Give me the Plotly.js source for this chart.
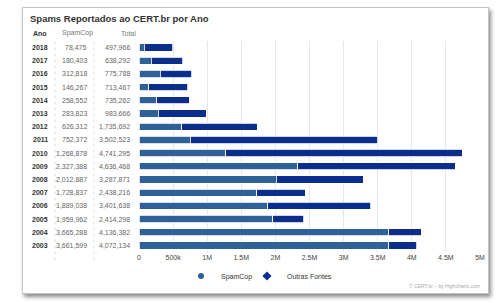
<!DOCTYPE html>
<html>
<head>
<meta charset="utf-8">
<script src="https://cdn.plot.ly/plotly-3.0.1.min.js"></script>
<style>
  html, body { margin: 0; padding: 0; background: #ffffff; width: 501px; height: 303px; overflow: hidden; }
  #card { position: absolute; left: 22px; top: 7px; width: 465px; height: 285px;
          border: 1px solid #c4c4c4; background: #fff; box-shadow: 2px 3px 4px rgba(0,0,0,0.45); }
  #chart { width: 465px; height: 285px; }
</style>
</head>
<body>
<div id="card"><div id="chart"></div></div>
<script>
// ---- data ----
const years   = ['2018','2017','2016','2015','2014','2013','2012','2011','2010','2009','2008','2007','2006','2005','2004','2003'];
const spamcop = [78475, 180403, 312818, 146267, 258552, 283823, 626312, 752372, 1268878, 2327388, 2012887, 1728837, 1889038, 1959962, 3665288, 3661599];
const totals  = [497966, 638292, 775788, 713467, 735262, 983666, 1735692, 3502523, 4741295, 4636468, 3287871, 2438216, 3401638, 2414298, 4136382, 4072134];
const tickVals = [0, 500000, 1000000, 1500000, 2000000, 2500000, 3000000, 3500000, 4000000, 4500000, 5000000];
const tickText = ['0','500k','1M','1.5M','2M','2.5M','3M','3.5M','4M','4.5M','5M'];
const seriesNames = ['SpamCop', 'Outras Fontes'];
const headers = ['Ano', 'SpamCop', 'Total'];

const outras = totals.map((t, i) => t - spamcop[i]);
const fmt = v => v.toLocaleString('en-US');

const C_LIGHT = '#2f6199';
const C_DARK = '#0b2d8c';
const FONT = 'Liberation Sans, Arial, sans-serif';

const traces = [
  { type: 'bar', orientation: 'h', y: years, x: spamcop, name: seriesNames[0],
    marker: { color: C_LIGHT, line: { color: '#ffffff', width: 0.8 } }, showlegend: false, hoverinfo: 'skip' },
  { type: 'bar', orientation: 'h', y: years, x: outras, name: seriesNames[1],
    marker: { color: C_DARK, line: { color: '#ffffff', width: 0.8 } }, showlegend: false, hoverinfo: 'skip' },
  // legend-only entries (Highcharts-style circle / diamond symbols), on hidden axes
  { type: 'scatter', mode: 'markers', x: [null], y: [null], name: seriesNames[0], xaxis: 'x2', yaxis: 'y2',
    legend: 'legend', marker: { symbol: 'circle', size: 6, color: C_LIGHT }, hoverinfo: 'skip' },
  { type: 'scatter', mode: 'markers', x: [null], y: [null], name: seriesNames[1], xaxis: 'x2', yaxis: 'y2',
    legend: 'legend2', marker: { symbol: 'diamond', size: 7, color: C_DARK }, hoverinfo: 'skip' }
];

// table geometry in paper units (plot area: 116..457 px, 33..244 px)
const W = 341, H = 211;
const px = cx => (cx - 116) / W;
const X_YEAR = px(17.5), X_SPAM = px(66), X_TOTAL = px(109);
const Y_HEAD = 1 + (33 - 25) / H;

const annotations = [];
annotations.push({ xref: 'paper', yref: 'paper', x: X_YEAR, y: Y_HEAD, text: '<b>' + headers[0] + '</b>',
  showarrow: false, xanchor: 'center', yanchor: 'middle', font: { family: FONT, size: 7, color: '#333' } });
annotations.push({ xref: 'paper', yref: 'paper', x: px(54), y: Y_HEAD, text: headers[1],
  showarrow: false, xanchor: 'center', yanchor: 'middle', font: { family: FONT, size: 7, color: '#777' } });
annotations.push({ xref: 'paper', yref: 'paper', x: px(105), y: Y_HEAD, text: headers[2],
  showarrow: false, xanchor: 'center', yanchor: 'middle', font: { family: FONT, size: 7, color: '#777' } });
years.forEach((yr, i) => {
  annotations.push({ xref: 'paper', yref: 'y', x: X_YEAR, y: i, text: '<b>' + yr + '</b>',
    showarrow: false, xanchor: 'center', yanchor: 'middle', font: { family: FONT, size: 7, color: '#333' } });
  annotations.push({ xref: 'paper', yref: 'y', x: X_SPAM, y: i, text: fmt(spamcop[i]),
    showarrow: false, xanchor: 'right', yanchor: 'middle', font: { family: FONT, size: 7, color: '#666' } });
  annotations.push({ xref: 'paper', yref: 'y', x: X_TOTAL, y: i, text: fmt(totals[i]),
    showarrow: false, xanchor: 'right', yanchor: 'middle', font: { family: FONT, size: 7, color: '#666' } });
});
annotations.push({ xref: 'paper', yref: 'paper', x: px(459), y: -(278 - 244) / H, text: '© CERT.br – by Highcharts.com',
  showarrow: false, xanchor: 'right', yanchor: 'middle', font: { family: FONT, size: 5, color: '#aaa' } });

const shapes = [px(32), px(71)].map(x => ({
  type: 'line', xref: 'paper', yref: 'paper', x0: x, x1: x, y0: -0.04, y1: 1.0,
  line: { color: '#d6deea', width: 1, dash: 'dot' }
}));

const legendBase = { orientation: 'h', xref: 'container', yref: 'container', xanchor: 'left',
  y: 1 - 268 / 285, yanchor: 'middle', font: { family: FONT, size: 7, color: '#333' },
  itemwidth: 30, bgcolor: 'rgba(0,0,0,0)' };

const layout = {
  width: 465, height: 285,
  margin: { l: 116, r: 8, t: 33, b: 41 },
  paper_bgcolor: '#ffffff', plot_bgcolor: '#ffffff',
  barmode: 'stack', bargap: 0.45,
  font: { family: FONT, size: 7, color: '#333' },
  title: { text: '<b>Spams Reportados ao CERT.br por Ano</b>', xref: 'container', yref: 'container',
           x: 7 / 465, xanchor: 'left', y: 1 - 11 / 285, yanchor: 'middle',
           font: { family: FONT, size: 9.5, color: '#333' } },
  xaxis: { range: [0, 5000000], tickvals: tickVals, ticktext: tickText, showgrid: true, gridcolor: '#e6e6e6',
           gridwidth: 1, zeroline: false, showline: false, ticks: '', fixedrange: true,
           tickfont: { family: FONT, size: 7, color: '#444' } },
  yaxis: { type: 'category', categoryorder: 'array', categoryarray: years,
           range: [years.length - 0.5, -0.5], autorange: false,
           showticklabels: false, showgrid: false, zeroline: false, showline: false, ticks: '', fixedrange: true },
  xaxis2: { visible: false, anchor: 'y2', overlaying: 'x', range: [0, 1] },
  yaxis2: { visible: false, anchor: 'x2', overlaying: 'y', range: [0, 1] },
  showlegend: true,
  legend: Object.assign({}, legendBase, { x: 158 / 465 }),
  legend2: Object.assign({}, legendBase, { x: 224 / 465 }),
  annotations: annotations,
  shapes: shapes,
  hovermode: false
};

Plotly.newPlot('chart', traces, layout, { displayModeBar: false, staticPlot: true });
</script>
</body>
</html>
